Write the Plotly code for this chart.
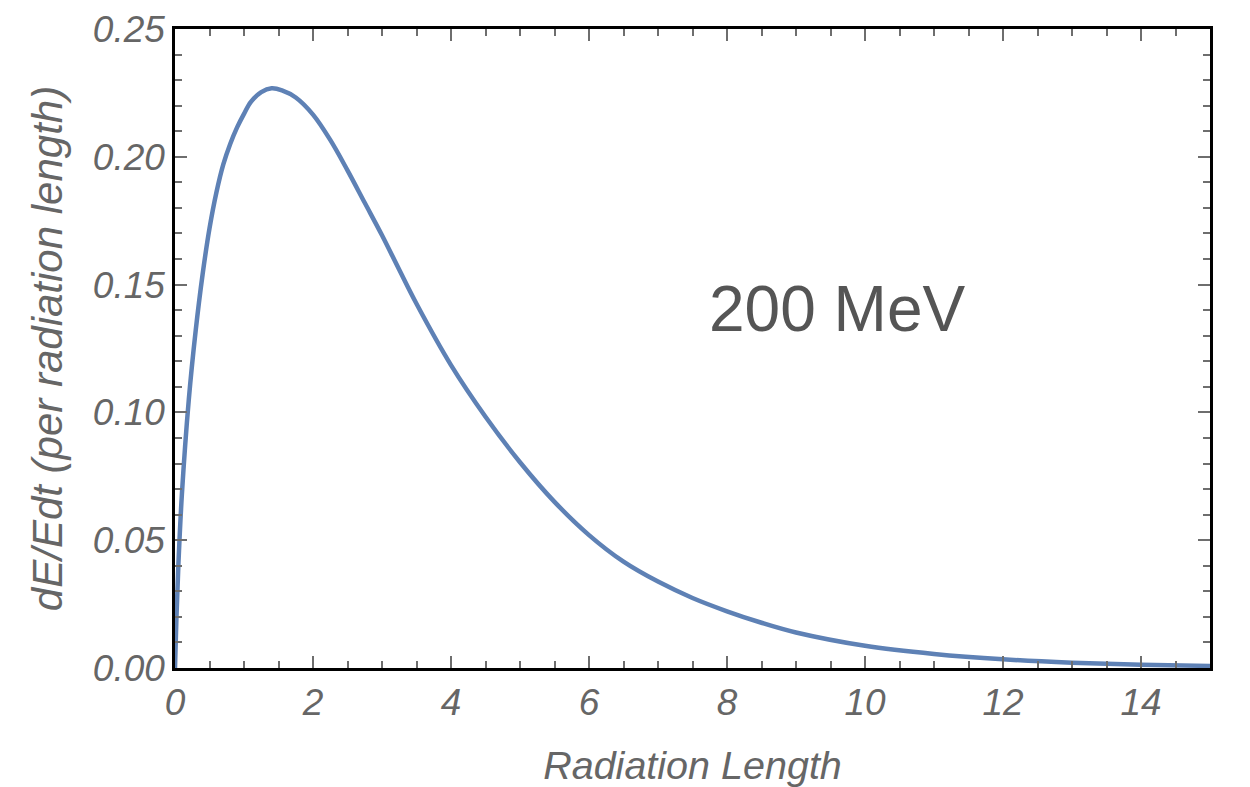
import plotly.graph_objects as go

# Values
radiation_length = [0.0, 0.02, 0.05, 0.1, 0.2, 0.3, 0.4, 0.5, 0.6, 0.7, 0.8, 0.9, 1.0,
                    1.1, 1.25, 1.4, 1.55, 1.75, 2.0, 2.25, 2.5, 2.75, 3.0, 3.25, 3.5,
                    4.0, 4.5, 5.0, 5.5, 6.0, 6.5, 7.0, 7.5, 8.0, 8.5, 9.0, 10.0, 11.0,
                    12.0, 13.0, 14.0, 15.0]
dEdt = [0.0, 0.019, 0.041, 0.068, 0.105, 0.132, 0.154, 0.172, 0.186, 0.197, 0.205, 0.2115,
        0.2168, 0.2215, 0.2253, 0.2268, 0.2260, 0.2232, 0.2165, 0.2066, 0.1947, 0.1820,
        0.1693, 0.1558, 0.1425, 0.1185, 0.0983, 0.0805, 0.0650, 0.0520, 0.0416, 0.0338,
        0.0274, 0.0222, 0.0177, 0.0139, 0.0087, 0.0055, 0.0034, 0.0021, 0.0013, 0.0008]

x_ticks = [0, 2, 4, 6, 8, 10, 12, 14]
y_ticks = [0.00, 0.05, 0.10, 0.15, 0.20, 0.25]
label_text = "200 MeV"

font_family = "Liberation Sans, Arial, Helvetica, sans-serif"
gray = "#666666"

fig = go.Figure()
fig.add_trace(go.Scatter(
    x=radiation_length, y=dEdt, mode="lines",
    line=dict(color="#5E81B5", width=4.5, shape="spline", smoothing=1.0),
    showlegend=False, hoverinfo="skip"))

axis_common = dict(
    showgrid=False, zeroline=False, showline=True, linecolor="black", linewidth=2.5,
    mirror="ticks", ticks="inside", ticklen=12, tickwidth=2, tickcolor="#6e6e6e",
    tickfont=dict(family=font_family, size=37, color=gray, style="italic"),
    automargin=False,
)

fig.update_xaxes(
    range=[0, 15], tickvals=x_ticks, ticktext=[str(v) for v in x_ticks],
    minor=dict(dtick=0.5, tick0=0, ticks="inside", ticklen=7, tickwidth=2, tickcolor="#6e6e6e"),
    title=dict(text="Radiation Length", standoff=31,
               font=dict(family=font_family, size=39.5, color=gray, style="italic")),
    **axis_common)
fig.update_yaxes(
    range=[0, 0.25], tickvals=y_ticks, ticktext=[f"{v:.2f}" for v in y_ticks],
    minor=dict(dtick=0.01, tick0=0, ticks="inside", ticklen=7, tickwidth=2, tickcolor="#6e6e6e"),
    title=dict(text="dE/Edt (per radiation length)", standoff=18,
               font=dict(family=font_family, size=42, color=gray, style="italic")),
    **axis_common)

fig.add_annotation(x=9.6, y=0.1405, text=label_text, showarrow=False,
                   font=dict(family=font_family, size=64, color="#555555"))

fig.update_layout(
    width=1250, height=787,
    margin=dict(l=175, r=40, t=29, b=119),
    plot_bgcolor="white", paper_bgcolor="white",
)

fig.write_html("out.html")
